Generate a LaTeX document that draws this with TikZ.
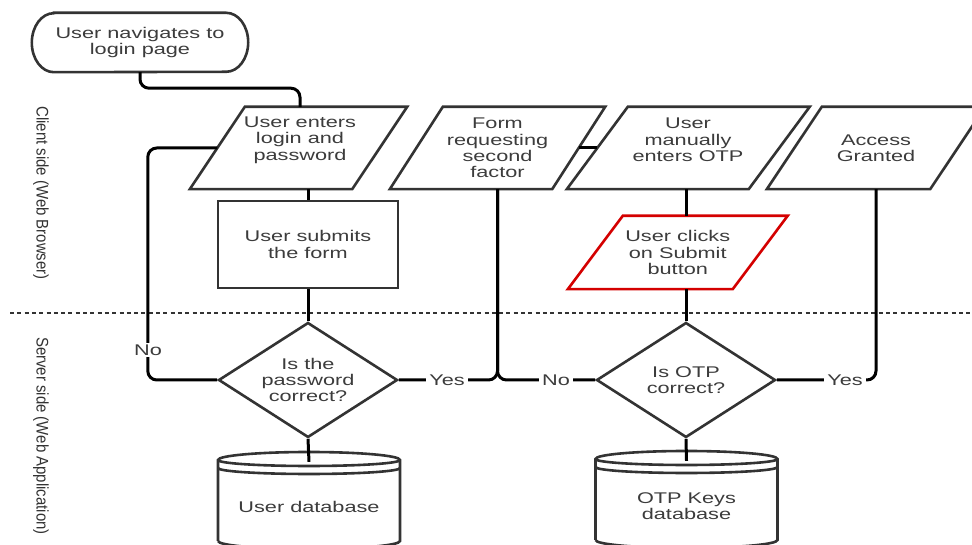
\documentclass[tikz,border=0pt]{standalone}
\usepackage{fontspec}
\setmainfont{Liberation Sans}[FakeStretch=1.4]
\newfontfamily\sidefont{Liberation Sans}[FakeStretch=0.89]
\usetikzlibrary{shapes.geometric}
\definecolor{inkgray}{HTML}{3C3C3C}
\definecolor{edgegray}{HTML}{333333}
\definecolor{clickred}{HTML}{D40000}

\tikzset{
  shapeline/.style={draw=edgegray, line width=2.6pt},
  flow/.style={draw=black, line width=3pt, rounded corners=9pt},
  txt/.style={text=inkgray, align=center, inner sep=0pt, font=\fontsize{15.5}{16.3}\selectfont},
  parabox/.style={txt, minimum height=82pt},
  decision/.style={txt, diamond, shapeline, fill=white, aspect=1.55, minimum width=179pt, minimum height=115pt},
  lbl/.style={txt, fill=white, inner xsep=3pt, inner ysep=2pt},
  dbbox/.style={txt, minimum width=182pt, minimum height=90pt},
  sidelabel/.style={text=edgegray, rotate=-90, inner sep=0pt, font=\sidefont\fontsize{16.8}{18}\selectfont},
}

% outline of a leaning box round a node: colour, node, half slant
\newcommand{\paraedge}[3][edgegray]{%
  \draw[shapeline, draw=#1] ([xshift=#3]#2.north west) -- ([xshift=#3]#2.north east)
    -- ([xshift=-#3]#2.south east) -- ([xshift=-#3]#2.south west) -- cycle;}

% outline of a database drum round a node
\newcommand{\dbedge}[1]{%
  \draw[shapeline] ([shift={(-91pt,-34pt)}]#1.center) -- ++(0,81)
    arc[start angle=180, end angle=0, x radius=91pt, y radius=8pt] -- ++(0,-81)
    arc[start angle=0, end angle=-180, x radius=91pt, y radius=8pt];
  \draw[shapeline] ([shift={(-91pt,47pt)}]#1.center) arc[start angle=180, end angle=360, x radius=91pt, y radius=6pt];
  \draw[shapeline] ([shift={(-91pt,39pt)}]#1.center) arc[start angle=180, end angle=360, x radius=91pt, y radius=6pt];}

\begin{document}
\begin{tikzpicture}[x=1pt, y=1pt]
  \useasboundingbox (0,0) rectangle (972,545);
  \fill[white] (0,0) rectangle (972,545);

  % Client / server divider
  \draw[edgegray, line width=2pt, dash pattern=on 4pt off 3.3pt] (10,232) -- (972,232);
  \node[sidelabel] (clientlbl) at (41,352) {Client side (Web Browser)};
  \node[sidelabel] (serverlbl) at (41,109) {Server side (Web Application)};

  % Start
  \node[txt, minimum width=216pt, minimum height=59pt] (start) at (140,502.5) {User navigates to\\login page};
  \draw[shapeline] ([xshift=22pt]start.north west) -- ([xshift=-22pt]start.north east)
    arc[start angle=90, end angle=-90, x radius=22pt, y radius=29.5pt]
    -- ([xshift=22pt]start.south west)
    arc[start angle=270, end angle=90, x radius=22pt, y radius=29.5pt] -- cycle;

  % Client side row
  \node[parabox, minimum width=162pt] (enter) at (298.5,397) {};
  \node[txt] (entertxt) at (300,405) {User enters\\login and\\password};
  \paraedge{enter}{27.5pt}
  \node[parabox, minimum width=162pt] (factor) at (497.5,397) {Form\\requesting\\second\\factor};
  \paraedge{factor}{26.5pt}
  \node[parabox, minimum width=181.5pt] (manual) at (688.25,397) {};
  \node[txt] (manualtxt) at (688,405) {User\\manually\\enters OTP};
  \paraedge{manual}{30.5pt}
  \node[parabox, minimum width=163pt] (granted) at (876,397) {Access\\Granted};
  \paraedge{granted}{27.5pt}

  \node[txt, shapeline, minimum width=180pt, minimum height=87pt] (submit) at (308,300.5) {User submits\\the form};
  \node[parabox, minimum width=164.5pt, minimum height=73pt] (click) at (677.75,292.5) {User clicks\\on Submit\\button};
  \paraedge[clickred]{click}{27.5pt}

  % Connectors
  \draw[flow] (start.south) -- ++(0,-16) -| ([xshift=1.5pt]enter.north);
  \draw[flow] (enter.south -| submit.north) -- (submit.north);
  \draw[flow] (manual.south -| 686,0) -- (click.north -| 686,0);

  % Server side
  \node[decision] (pwcheck) at (308,165) {Is the\\password\\correct?};
  \node[decision] (otpcheck) at (686,165) {Is OTP\\correct?};
  \node[dbbox] (userdb) at (309,38) {User database};
  \dbedge{userdb}
  \node[dbbox] (otpdb) at (686.5,39) {OTP Keys\\database};
  \dbedge{otpdb}

  \draw[flow] (submit.south) -- (pwcheck.north);
  \draw[flow] (click.south -| otpcheck.north) -- (otpcheck.north);
  \draw[flow] (pwcheck.west) -| ([xshift=-69.5pt]enter.west) -- (enter.west);
  \draw[flow] (pwcheck.east) -| (factor.south);
  \draw[flow] (otpcheck.west) -| (factor.south);
  \draw[flow] (factor.east) -- (manual.west);
  \draw[flow] (otpcheck.east) -| (granted.south);
  \draw[flow] (pwcheck.south) -- (userdb.north);
  \draw[flow] (otpcheck.south) -- (otpdb.north);

  % Branch labels
  \node[lbl] (nopw) at (148,195) {No};
  \node[lbl] (yespw) at (447,165) {Yes};
  \node[lbl] (nootp) at (556,165) {No};
  \node[lbl] (yesotp) at (845,165) {Yes};
\end{tikzpicture}
\end{document}
